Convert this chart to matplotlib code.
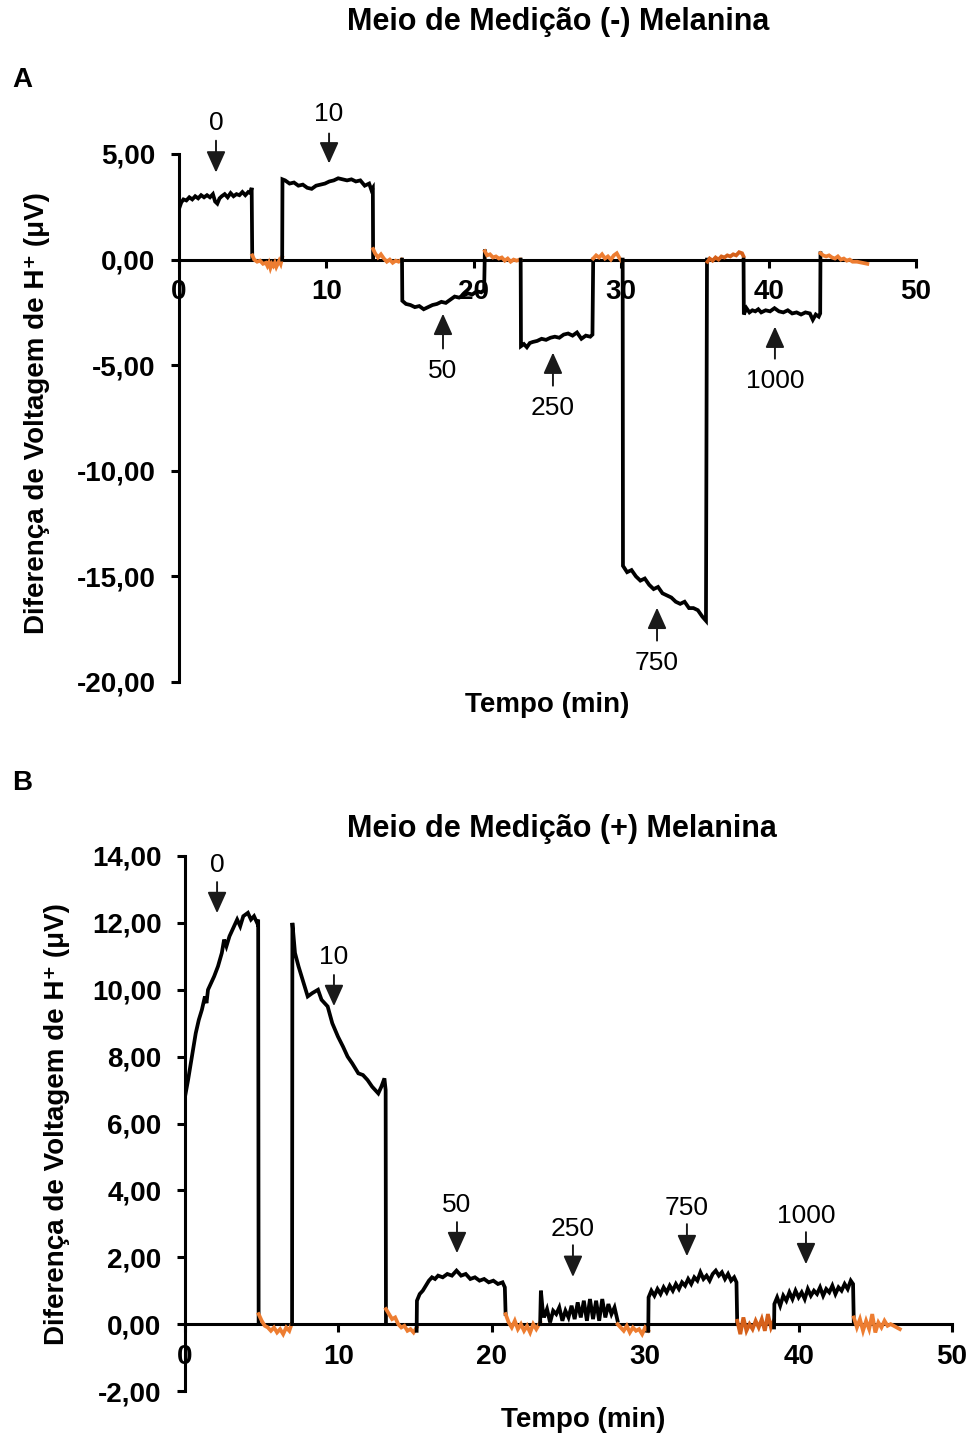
import matplotlib
matplotlib.use("Agg")
import matplotlib.pyplot as plt

plt.rcParams['font.family'] = ['Liberation Sans', 'DejaVu Sans']

BLACK = '#000000'
ORANGE = '#ED7D31'
DORANGE = '#D5601A'

# ---------------- Panel A data: (-) Melanina ----------------
a_b1_t = [0, 0.15, 0.3, 0.5, 0.7, 0.9, 1.1, 1.3, 1.5, 1.7, 1.9, 2.1, 2.3, 2.45, 2.6, 2.75, 2.9, 3.1, 3.3, 3.5, 3.7, 3.9, 4.1, 4.3, 4.5, 4.7, 4.85, 4.93, 4.97]
a_b1_v = [2.4, 2.7, 2.85, 2.8, 2.95, 2.85, 3.0, 2.9, 3.05, 2.95, 3.05, 2.95, 3.1, 2.75, 2.65, 2.9, 3.0, 3.1, 2.95, 3.15, 3.0, 3.1, 3.05, 3.2, 3.05, 3.2, 3.15, 3.4, 0.0]
a_o1_t = [4.97, 5.1, 5.3, 5.5, 5.7, 5.9, 6.0, 6.1, 6.2, 6.3, 6.4, 6.5, 6.6, 6.7, 6.8, 6.9, 7.0]
a_o1_v = [0.2, 0.0, -0.1, -0.05, -0.2, -0.15, -0.3, -0.15, -0.4, -0.2, -0.3, -0.15, -0.35, -0.2, -0.05, -0.2, 0.1]
a_b2_t = [7.0, 7.02, 7.2, 7.5, 7.8, 8.1, 8.4, 8.7, 9.0, 9.3, 9.6, 9.9, 10.2, 10.5, 10.8, 11.1, 11.4, 11.7, 12.0, 12.3, 12.6, 12.9, 13.05, 13.15, 13.17]
a_b2_v = [0.0, 3.8, 3.75, 3.6, 3.65, 3.5, 3.55, 3.4, 3.35, 3.5, 3.55, 3.6, 3.7, 3.75, 3.85, 3.8, 3.75, 3.8, 3.7, 3.75, 3.5, 3.6, 3.3, 3.4, 0.0]
a_o2_t = [13.17, 13.3, 13.5, 13.7, 13.9, 14.1, 14.3, 14.5, 14.7, 14.9, 15.1]
a_o2_v = [0.5, 0.3, 0.1, 0.25, 0.05, -0.1, 0.0, -0.15, -0.05, -0.1, 0.0]
a_b3_t = [15.13, 15.15, 15.4, 15.7, 16.0, 16.3, 16.6, 16.9, 17.2, 17.5, 17.8, 18.1, 18.4, 18.7, 19.0, 19.3, 19.6, 19.9, 20.2, 20.5, 20.7, 20.75]
a_b3_v = [0.0, -1.95, -2.1, -2.15, -2.25, -2.2, -2.35, -2.25, -2.15, -2.1, -2.0, -2.05, -1.9, -1.75, -1.8, -1.7, -1.6, -1.65, -1.5, -1.55, -1.45, 0.4]
a_o3_t = [20.75, 20.9, 21.1, 21.3, 21.5, 21.7, 21.9, 22.1, 22.3, 22.5, 22.7, 22.9, 23.15]
a_o3_v = [0.4, 0.2, 0.25, 0.1, 0.15, 0.05, 0.1, -0.05, 0.05, -0.1, 0.0, -0.05, 0.0]
a_b4_t = [23.18, 23.2, 23.4, 23.6, 23.8, 24.0, 24.3, 24.6, 24.9, 25.2, 25.5, 25.8, 26.1, 26.4, 26.7, 27.0, 27.3, 27.6, 27.9, 28.05, 28.1]
a_b4_v = [0.0, -4.1, -4.0, -4.15, -3.95, -3.9, -3.85, -3.75, -3.8, -3.7, -3.65, -3.7, -3.55, -3.5, -3.6, -3.45, -3.75, -3.6, -3.65, -3.55, 0.0]
a_o4_t = [28.1, 28.3, 28.5, 28.7, 28.9, 29.1, 29.3, 29.5, 29.7, 29.9, 30.05]
a_o4_v = [0.05, 0.2, 0.1, 0.25, 0.05, 0.15, 0.0, 0.2, 0.3, 0.05, -0.1]
a_b5_t = [30.1, 30.12, 30.4, 30.7, 31.0, 31.3, 31.6, 31.9, 32.2, 32.5, 32.8, 33.1, 33.4, 33.7, 34.0, 34.3, 34.6, 34.9, 35.2, 35.5, 35.75, 35.82]
a_b5_v = [0.0, -14.5, -14.8, -14.7, -15.0, -15.2, -15.1, -15.4, -15.6, -15.5, -15.8, -15.9, -16.0, -16.2, -16.3, -16.2, -16.5, -16.5, -16.6, -16.9, -17.1, 0.0]
a_o5_t = [35.85, 36.0, 36.2, 36.4, 36.6, 36.8, 37.0, 37.2, 37.4, 37.6, 37.8, 38.0, 38.2, 38.3]
a_o5_v = [-0.1, 0.05, -0.05, 0.1, 0.0, 0.15, 0.1, 0.2, 0.15, 0.25, 0.2, 0.35, 0.3, 0.15]
a_b6_t = [38.3, 38.32, 38.5, 38.7, 38.9, 39.1, 39.3, 39.5, 39.8, 40.1, 40.4, 40.7, 41.0, 41.3, 41.6, 41.9, 42.2, 42.5, 42.8, 43.0, 43.2, 43.4, 43.5, 43.52]
a_b6_v = [0.0, -2.6, -2.3, -2.5, -2.4, -2.45, -2.35, -2.5, -2.4, -2.45, -2.3, -2.45, -2.5, -2.4, -2.55, -2.5, -2.6, -2.5, -2.55, -2.85, -2.6, -2.7, -2.55, 0.3]
a_o6_t = [43.52, 43.7, 43.9, 44.1, 44.3, 44.5, 44.7, 44.9, 45.1, 45.3, 45.5, 45.7, 46.0, 46.7]
a_o6_v = [0.3, 0.2, 0.15, 0.2, 0.1, 0.05, 0.15, 0.0, 0.05, -0.05, 0.0, -0.1, -0.1, -0.2]

# ---------------- Panel B data: (+) Melanina ----------------
b_b1_t = [0, 0.2, 0.45, 0.7, 0.9, 1.1, 1.3, 1.4, 1.5, 1.7, 1.9, 2.15, 2.4, 2.55, 2.7, 2.9, 3.1, 3.4, 3.6, 3.8, 4.1, 4.3, 4.5, 4.7, 4.77, 4.8]
b_b1_v = [6.8, 7.3, 8.0, 8.7, 9.1, 9.4, 9.8, 9.6, 10.0, 10.2, 10.4, 10.7, 11.1, 11.5, 11.3, 11.6, 11.8, 12.1, 11.9, 12.2, 12.3, 12.1, 12.2, 12.0, 12.1, 0.0]
b_o1_t = [4.8, 5.0, 5.2, 5.4, 5.6, 5.8, 6.0, 6.2, 6.4, 6.6, 6.8, 6.95]
b_o1_v = [0.3, 0.1, -0.05, -0.1, -0.2, -0.1, -0.25, -0.15, -0.3, -0.1, -0.2, 0.0]
b_b2_t = [6.98, 7.0, 7.17, 7.4, 7.6, 7.8, 8.0, 8.3, 8.67, 8.9, 9.3, 9.6, 9.97, 10.3, 10.6, 10.9, 11.3, 11.6, 11.9, 12.2, 12.6, 12.8, 13.0, 13.08, 13.1]
b_b2_v = [0.0, 12.0, 11.1, 10.7, 10.4, 10.1, 9.8, 9.9, 10.0, 9.7, 9.5, 9.0, 8.6, 8.3, 8.0, 7.8, 7.5, 7.45, 7.3, 7.1, 6.9, 7.1, 7.35, 7.0, 0.0]
b_o2_t = [13.1, 13.3, 13.5, 13.7, 13.9, 14.1, 14.3, 14.5, 14.7, 14.9, 15.1]
b_o2_v = [0.45, 0.3, 0.15, 0.2, 0.0, -0.1, -0.05, -0.2, -0.15, -0.25, -0.1]
b_b3_t = [15.1, 15.12, 15.3, 15.5, 15.7, 15.9, 16.1, 16.3, 16.5, 16.8, 17.1, 17.4, 17.7, 18.0, 18.3, 18.6, 18.9, 19.2, 19.5, 19.8, 20.1, 20.4, 20.7, 20.85, 20.9]
b_b3_v = [-0.2, 0.7, 0.9, 1.0, 1.15, 1.3, 1.4, 1.35, 1.45, 1.4, 1.5, 1.45, 1.6, 1.45, 1.5, 1.35, 1.4, 1.3, 1.35, 1.25, 1.3, 1.2, 1.25, 1.1, 0.3]
b_o3_t = [20.9, 21.1, 21.3, 21.5, 21.7, 21.9, 22.1, 22.3, 22.5, 22.7, 22.9, 23.15]
b_o3_v = [0.3, 0.05, -0.1, 0.1, -0.15, 0.0, -0.2, -0.05, -0.25, 0.0, -0.15, 0.05]
b_b4_t = [23.15, 23.2, 23.3, 23.4, 23.6, 23.8, 24.0, 24.2, 24.4, 24.6, 24.8, 25.0, 25.2, 25.4, 25.6, 25.8, 26.0, 26.2, 26.4, 26.6, 26.8, 27.0, 27.2, 27.4, 27.6, 27.8, 28.0, 28.2]
b_b4_v = [0.0, 1.0, 0.5, 0.2, 0.45, 0.05, 0.4, 0.3, 0.5, 0.1, 0.4, 0.2, 0.55, 0.15, 0.65, 0.2, 0.7, 0.1, 0.75, 0.15, 0.7, 0.1, 0.75, 0.2, 0.6, 0.3, 0.5, 0.1]
b_o4_t = [28.2, 28.4, 28.6, 28.8, 29.0, 29.2, 29.4, 29.6, 29.8, 30.0, 30.2]
b_o4_v = [0.0, -0.1, -0.2, -0.05, -0.25, -0.1, -0.2, -0.15, -0.3, -0.1, -0.2]
b_b5_t = [30.2, 30.22, 30.4, 30.6, 30.8, 31.0, 31.2, 31.4, 31.6, 31.8, 32.0, 32.2, 32.4, 32.6, 32.8, 33.0, 33.2, 33.4, 33.6, 33.8, 34.0, 34.2, 34.4, 34.6, 34.8, 35.0, 35.2, 35.4, 35.6, 35.8, 35.95, 36.0]
b_b5_v = [-0.2, 0.8, 1.0, 0.85, 1.05, 0.9, 1.1, 0.95, 1.15, 1.0, 1.2, 1.05, 1.25, 1.15, 1.35, 1.2, 1.4, 1.3, 1.55, 1.35, 1.45, 1.3, 1.5, 1.6, 1.45, 1.55, 1.35, 1.5, 1.3, 1.4, 1.25, 0.0]
b_o5_t = [36.0, 36.2, 36.4, 36.6, 36.8, 37.0, 37.2, 37.4, 37.6, 37.8, 38.0, 38.2, 38.38]
b_o5_v = [0.1, -0.3, 0.2, -0.2, 0.0, -0.15, 0.1, -0.1, 0.15, -0.2, 0.3, -0.1, 0.1]
b_b6_t = [38.4, 38.42, 38.6, 38.8, 39.0, 39.2, 39.4, 39.6, 39.8, 40.0, 40.2, 40.4, 40.6, 40.8, 41.0, 41.2, 41.4, 41.6, 41.8, 42.0, 42.2, 42.4, 42.6, 42.8, 43.0, 43.2, 43.4, 43.55, 43.6]
b_b6_v = [-0.1, 0.6, 0.8, 0.55, 0.85, 0.7, 0.95, 0.75, 1.0, 0.8, 0.95, 0.75, 1.05, 0.85, 1.0, 0.9, 1.1, 0.85, 1.05, 0.95, 1.15, 0.9, 1.1, 1.0, 1.2, 1.05, 1.3, 1.2, 0.0]
b_o6_t = [43.6, 43.8, 44.0, 44.2, 44.4, 44.6, 44.8, 45.0, 45.2, 45.4, 45.6, 45.8, 46.0, 46.6]
b_o6_v = [0.2, -0.1, 0.15, -0.2, 0.1, -0.15, 0.3, -0.25, 0.05, -0.1, 0.1, -0.05, 0.0, -0.15]

# Ticks
x_ticks = [0, 10, 20, 30, 40, 50]
a_yticks = [5, 0, -5, -10, -15, -20]
a_yticklabels = ['5,00', '0,00', '-5,00', '-10,00', '-15,00', '-20,00']
b_yticks = [14, 12, 10, 8, 6, 4, 2, 0, -2]
b_yticklabels = ['14,00', '12,00', '10,00', '8,00', '6,00', '4,00', '2,00', '0,00', '-2,00']

# Annotations: label, x, text_y, arrow tail y, arrow tip y
a_ann_labels = ['0', '10', '50', '250', '750', '1000']
a_ann_x = [2.51, 10.18, 17.91, 25.37, 32.43, 40.43]
a_ann_ty = [6.49, 6.91, -5.26, -7.05, -19.08, -5.73]
a_ann_tail = [5.63, 5.97, -4.21, -5.97, -18.04, -4.69]
a_ann_tip = [4.12, 4.55, -2.56, -4.40, -16.48, -3.17]

b_ann_labels = ['0', '10', '50', '250', '750', '1000']
b_ann_x = [2.09, 9.71, 17.73, 25.29, 32.72, 40.48]
b_ann_ty = [13.73, 10.97, 3.56, 2.84, 3.47, 3.23]
b_ann_tail = [13.22, 10.44, 3.05, 2.36, 2.99, 2.75]
b_ann_tip = [12.29, 9.51, 2.12, 1.41, 2.03, 1.79]

W, H = 974, 1437
fig = plt.figure(figsize=(W / 100, H / 100), dpi=100)


def fx(px):
    return px / W


def fy(py):
    return 1 - py / H


axA = fig.add_axes([fx(179), fy(682), fx(916) - fx(179), fy(154) - fy(682)])
axB = fig.add_axes([fx(185), fy(1391), fx(952) - fx(185), fy(856) - fy(1391)])

LW = 2.7
segsA = [(a_b1_t, a_b1_v, BLACK), (a_o1_t, a_o1_v, ORANGE), (a_b2_t, a_b2_v, BLACK), (a_o2_t, a_o2_v, ORANGE),
         (a_b3_t, a_b3_v, BLACK), (a_o3_t, a_o3_v, ORANGE), (a_b4_t, a_b4_v, BLACK), (a_o4_t, a_o4_v, ORANGE),
         (a_b5_t, a_b5_v, BLACK), (a_o5_t, a_o5_v, DORANGE), (a_b6_t, a_b6_v, BLACK), (a_o6_t, a_o6_v, ORANGE)]
segsB = [(b_b1_t, b_b1_v, BLACK), (b_o1_t, b_o1_v, ORANGE), (b_b2_t, b_b2_v, BLACK), (b_o2_t, b_o2_v, ORANGE),
         (b_b3_t, b_b3_v, BLACK), (b_o3_t, b_o3_v, ORANGE), (b_b4_t, b_b4_v, BLACK), (b_o4_t, b_o4_v, ORANGE),
         (b_b5_t, b_b5_v, BLACK), (b_o5_t, b_o5_v, DORANGE), (b_b6_t, b_b6_v, BLACK), (b_o6_t, b_o6_v, ORANGE)]


def style_axes(ax, ylim, yticks, ylabels):
    ax.set_xlim(0, 50)
    ax.set_ylim(*ylim)
    for s in ['top', 'right']:
        ax.spines[s].set_visible(False)
    ax.spines['bottom'].set_position(('data', 0))
    ax.spines['bottom'].set_linewidth(2.2)
    ax.spines['left'].set_linewidth(2.2)
    ax.set_xticks(x_ticks)
    ax.set_xticklabels([str(t) for t in x_ticks], fontsize=20, fontweight='bold')
    ax.set_yticks(yticks)
    ax.set_yticklabels(ylabels, fontsize=20, fontweight='bold')
    ax.tick_params(axis='both', direction='out', length=6, width=2.2)
    ax.tick_params(axis='x', pad=8)
    ax.tick_params(axis='y', pad=11)
    ax.patch.set_visible(False)


for t, v, c in segsA:
    axA.plot(t, v, color=c, lw=LW, zorder=3, solid_joinstyle='miter')
for t, v, c in segsB:
    axB.plot(t, v, color=c, lw=LW, zorder=3, solid_joinstyle='miter')

style_axes(axA, (-20, 5), a_yticks, a_yticklabels)
style_axes(axB, (-2, 14), b_yticks, b_yticklabels)


def annotate(ax, labels, xs, tys, tails, tips):
    for lab, x, ty, tl, tp in zip(labels, xs, tys, tails, tips):
        ax.text(x, ty, lab, fontsize=19, ha='center', va='center', clip_on=False)
        ax.annotate('', xy=(x, tp), xytext=(x, tl), annotation_clip=False,
                    arrowprops=dict(arrowstyle='-|>,head_length=1.0,head_width=0.45',
                                    mutation_scale=13, color='#1a1a1a', lw=1.4,
                                    shrinkA=0, shrinkB=0))


annotate(axA, a_ann_labels, a_ann_x, a_ann_ty, a_ann_tail, a_ann_tip)
annotate(axB, b_ann_labels, b_ann_x, b_ann_ty, b_ann_tail, b_ann_tip)

ylab = 'Diferença de Voltagem de H\u207a (\u03bcV)'
fig.text(fx(37), fy(413), ylab, rotation=90, ha='center', va='center', fontsize=20, fontweight='bold')
fig.text(fx(57), fy(1124), ylab, rotation=90, ha='center', va='center', fontsize=20, fontweight='bold')
fig.text(fx(547), fy(705), 'Tempo (min)', ha='center', va='center', fontsize=20, fontweight='bold')
fig.text(fx(583), fy(1420), 'Tempo (min)', ha='center', va='center', fontsize=20, fontweight='bold')
fig.text(fx(558), fy(22), 'Meio de Medição (-) Melanina', ha='center', va='center', fontsize=22, fontweight='bold')
fig.text(fx(562), fy(829), 'Meio de Medição (+) Melanina', ha='center', va='center', fontsize=22, fontweight='bold')
fig.text(fx(22), fy(80), 'A', ha='center', va='center', fontsize=20, fontweight='bold')
fig.text(fx(22), fy(783), 'B', ha='center', va='center', fontsize=20, fontweight='bold')

fig.savefig('out.png', dpi=100)
